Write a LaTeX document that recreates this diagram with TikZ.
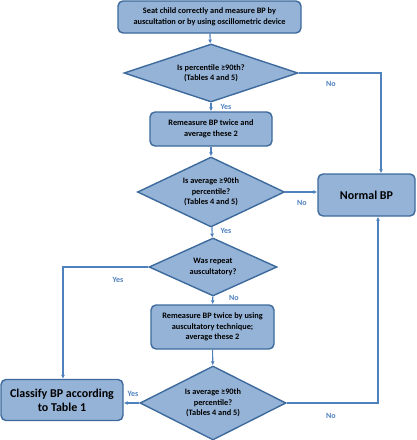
\documentclass[tikz,border=0pt]{standalone}
\usepackage{fontspec}
\setmainfont{Carlito}
\usepackage{tikz}
\usetikzlibrary{shapes.geometric}
\usetikzlibrary{arrows.meta}

\definecolor{boxfill}{HTML}{95B3D7}
\definecolor{boxline}{HTML}{3D6A9C}
\definecolor{linkblue}{HTML}{4F81BD}

\tikzset{
	stepbox/.style={draw=boxline, line width=1.4pt, fill=boxfill, rounded corners=5pt, align=center, font=\bfseries\fontsize{8.3}{10.5}\selectfont, inner sep=0pt},
	decide/.style={diamond, draw=boxline, line width=1.4pt, fill=boxfill, align=center, font=\bfseries\fontsize{8.3}{10.5}\selectfont, inner sep=0pt, aspect=2.5},
	link/.style={draw=linkblue, line width=1.1pt, -{Latex[length=4pt, width=4pt]}},
	answer/.style={text=linkblue, font=\bfseries\fontsize{8}{10}\selectfont}
}

\begin{document}
\begin{tikzpicture}[x=1pt, y=-1pt]
			\useasboundingbox (0, 0) rectangle (416, 440);

			\node[stepbox, minimum width=183, minimum height=32](seat) at (209.5, 17) {Seat child correctly and measure BP by\\auscultation or by using oscillometric device};
			\node[decide, minimum width=174, minimum height=58](perc) at (211, 73) {Is percentile ≥90th?\\(Tables 4 and 5)};
			\node[stepbox, minimum width=122, minimum height=34](remeas) at (211, 129) {Remeasure BP twice and\\average these 2};
			\node[decide, minimum width=147, minimum height=70](avg) at (211, 192) {Is average ≥90th\\percentile?\\(Tables 4 and 5)};
			\node[decide, minimum width=128, minimum height=58](repeat) at (213, 267) {Was repeat\\auscultatory?};
			\node[stepbox, minimum width=123, minimum height=44](auscul) at (212.5, 327) {Remeasure BP twice by using\\auscultatory technique;\\average these 2};
			\node[decide, minimum width=146, minimum height=74](avgtwo) at (213, 403) {Is average ≥90th\\percentile?\\(Tables 4 and 5)};
			\node[stepbox, minimum width=97, minimum height=42, font=\bfseries\fontsize{12}{14}\selectfont](normal) at (366.5, 195) {Normal BP};
			\node[stepbox, minimum width=122, minimum height=41, font=\bfseries\fontsize{12}{14}\selectfont](classify) at (62, 400) {Classify BP according\\to Table 1};

			\draw[link](seat)--(perc);
			\draw[link](perc)--(remeas);
			\draw[link](remeas)--(avg);
			\draw[link](avg)--(repeat);
			\draw[link](repeat)--(auscul);
			\draw[link](auscul)--(avgtwo);
			\draw[link](avgtwo.west)--(classify.east |- avgtwo.west);
			\draw[link](avg.east)--(normal.west |- avg.east);
			\draw[link](perc.east)-|(381, 0 |- normal.north);
			\draw[link](avgtwo.east)-|(378, 0 |- normal.south);
			\draw[link](repeat.west)-|(63, 0 |- classify.north);

			\node[answer](yesone) at (226, 107) {Yes};
			\node[answer](noone) at (331, 84) {No};
			\node[answer](notwo) at (302, 203) {No};
			\node[answer](yestwo) at (226, 231) {Yes};
			\node[answer](yesthree) at (118, 280) {Yes};
			\node[answer](nothree) at (234, 298) {No};
			\node[answer](yesfour) at (133, 394) {Yes};
			\node[answer](nofour) at (331, 416) {No};
		\end{tikzpicture}
\end{document}
